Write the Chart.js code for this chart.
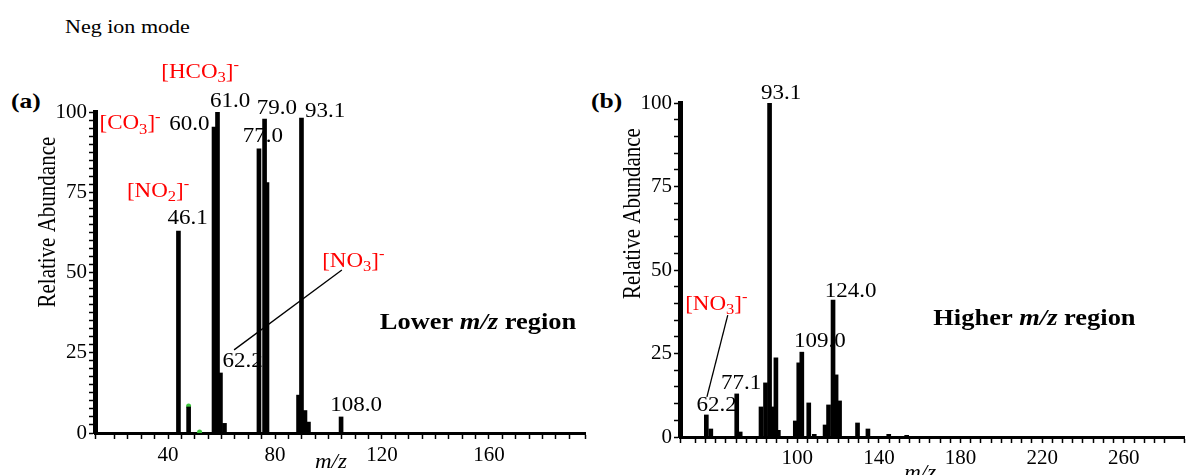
<!DOCTYPE html>
<html>
<head>
<meta charset="utf-8">
<title>Neg ion mode spectra</title>
<script src="https://cdn.jsdelivr.net/npm/chart.js@4.4.1/dist/chart.umd.min.js"></script>
<style>
    body { margin: 0; background: #fff; width: 1187px; height: 475px; position: relative; overflow: hidden; font-family: "Liberation Serif", "Times New Roman", serif; }
    canvas { position: absolute; top: 0; }
    #lowerCanvas { left: 0; }
    #higherCanvas { left: 595px; }
    .fig-text { position: absolute; white-space: nowrap; line-height: 1; transform-origin: 0 0; transform: scaleX(1.16); color: #000; }
</style>
</head>
<body>
<div class="fig-text" style="left:65px; top:17px; font-size:19px;">Neg ion mode</div>
<div class="fig-text" style="left:11px; top:90px; font-size:22px; font-weight:bold;">(a)</div>
<div class="fig-text" style="left:591px; top:90px; font-size:22px; font-weight:bold;">(b)</div>
<canvas id="lowerCanvas" width="595" height="475"></canvas>
<canvas id="higherCanvas" width="592" height="475"></canvas>
<script>
// (a) lower m/z region - peak positions, relative abundance (%)
const lowerMz = [43.9, 47.7, 57.2, 58.5, 59.6, 61.1, 74.0, 76.1, 77.0, 88.8, 89.9, 91.2, 92.5, 104.7];
const lowerAbundance = [62.9, 8.1, 95.3, 100, 18.7, 3.0, 88.5, 97.8, 78.0, 11.8, 98.1, 7.0, 3.4, 5.0];
// green marks left in the original scan
const lowerMarkMz = [47.7, 51.8];
const lowerMarkAbundance = [8.4, 0.3];

// (b) higher m/z region
const higherMz = [55.4, 57.6, 70.3, 72.0, 82.2, 84.4, 86.4, 88.1, 89.5, 90.7, 99.0, 100.7, 102.2, 105.6,
    108.3, 113.6, 115.3, 117.5, 119.0, 120.7, 129.5, 134.6, 144.8, 153.6];
const higherAbundance = [6.6, 2.4, 12.9, 1.5, 9.0, 16.2, 100, 9.0, 23.7, 2.0, 4.8, 22.2, 25.4, 10.2,
    0.8, 3.6, 9.6, 41.0, 18.6, 10.8, 4.2, 2.4, 0.8, 0.5];

// axis tick labels
const lowerXLabels = [40, 80, 120, 160];
const higherXLabels = [100, 140, 180, 220, 260];
const yLabels = [0, 25, 50, 75, 100];

const STRETCH = 1.15;
const SERIF = '"Liberation Serif", "Times New Roman", serif';

// "[HCO_3]^-" -> plain / subscript / superscript pieces
function parseParts(str) {
    const parts = [];
    let buf = '';
    for (let i = 0; i < str.length; i++) {
        const c = str[i];
        if ((c === '_' || c === '^') && i + 1 < str.length) {
            if (buf) parts.push({ text: buf });
            buf = '';
            parts.push({ text: str[i + 1], sub: c === '_', sup: c === '^' });
            i++;
        } else {
            buf += c;
        }
    }
    if (buf) parts.push({ text: buf });
    return parts;
}

function drawNote(ctx, note, cx, cy) {
    const size = note.size;
    const parts = note.parts || parseParts(note.text);
    const fontFor = (p) => {
        const s = (p.sub || p.sup) ? size * 0.72 : size;
        return (p.italic ? 'italic ' : '') + (note.bold ? 'bold ' : '') + s + 'px ' + SERIF;
    };
    ctx.save();
    ctx.translate(cx, cy);
    if (note.rotate) {
        ctx.rotate(-Math.PI / 2);
        ctx.scale(1, STRETCH);
    } else {
        ctx.scale(STRETCH, 1);
    }
    ctx.fillStyle = note.color || '#000';
    ctx.textAlign = 'left';
    ctx.textBaseline = 'alphabetic';
    let total = 0;
    parts.forEach(p => {
        ctx.font = fontFor(p);
        total += ctx.measureText(p.text).width;
    });
    let x = -total / 2;
    const base = size * 0.33;
    parts.forEach(p => {
        ctx.font = fontFor(p);
        const shift = p.sub ? size * 0.22 : (p.sup ? -size * 0.42 : 0);
        ctx.fillText(p.text, x, base + shift);
        x += ctx.measureText(p.text).width;
    });
    ctx.restore();
}

// labels and leader lines, placed in data coordinates, drawn under the peaks
function notesPlugin(notes, lines) {
    return {
        id: 'notes',
        beforeDatasetsDraw(chart) {
            const ctx = chart.ctx;
            const xs = chart.scales.x;
            const ys = chart.scales.y;
            ctx.save();
            ctx.strokeStyle = '#000';
            ctx.lineWidth = 1.3;
            lines.forEach(l => {
                ctx.beginPath();
                ctx.moveTo(xs.getPixelForValue(l.from[0]), ys.getPixelForValue(l.from[1]));
                ctx.lineTo(xs.getPixelForValue(l.to[0]), ys.getPixelForValue(l.to[1]));
                ctx.stroke();
            });
            ctx.restore();
            notes.forEach(n => drawNote(ctx, n, xs.getPixelForValue(n.x), ys.getPixelForValue(n.y)));
        }
    };
}

const RED = '#ff0000';
const mzParts = (before, after) => [{ text: before }, { text: 'm/z', italic: true }, { text: after }];

const lowerNotes = [
    { text: '46.1', x: 47.3, y: 67.3, size: 20 },
    { text: '60.0', x: 48.0, y: 96.4, size: 20 },
    { text: '61.0', x: 63.2, y: 103.6, size: 20 },
    { text: '77.0', x: 75.5, y: 92.7, size: 20 },
    { text: '79.0', x: 80.7, y: 101.4, size: 20 },
    { text: '93.1', x: 98.7, y: 100.5, size: 20 },
    { text: '62.2', x: 67.9, y: 22.6, size: 20 },
    { text: '108.0', x: 110.3, y: 8.9, size: 20 },
    { text: '[HCO_3]^-', x: 52.0, y: 112.8, size: 20, color: RED },
    { text: '[CO_3]^-', x: 25.8, y: 96.7, size: 20, color: RED },
    { text: '[NO_2]^-', x: 36.3, y: 75.7, size: 20, color: RED },
    { text: '[NO_3]^-', x: 109.3, y: 53.9, size: 20, color: RED },
    { parts: mzParts('Lower ', ' region'), x: 155.9, y: 34.9, size: 23, bold: true },
    { parts: [{ text: 'm/z', italic: true }], x: 100.9, y: -9.0, size: 20 },
    { text: 'Relative Abundance', x: -5.2, y: 65.7, size: 21, rotate: true }
];
const lowerLines = [{ from: [64.7, 25.9], to: [105.0, 50.8] }];

const higherNotes = [
    { text: '93.1', x: 92.0, y: 103.1, size: 20 },
    { text: '62.2', x: 60.5, y: 9.7, size: 20 },
    { text: '77.1', x: 72.5, y: 16.3, size: 20 },
    { text: '109.0', x: 111.0, y: 28.9, size: 20 },
    { text: '124.0', x: 126.1, y: 43.9, size: 20 },
    { text: '[NO_3]^-', x: 60.3, y: 40.1, size: 20, color: RED },
    { parts: mzParts('Higher ', ' region'), x: 216.2, y: 35.8, size: 23, bold: true },
    { parts: [{ text: 'm/z', italic: true }], x: 160.2, y: -10.5, size: 20 },
    { text: 'Relative Abundance', x: 19.1, y: 66.9, size: 21, rotate: true }
];
const higherLines = [{ from: [65.9, 36.5], to: [55.7, 12.0] }];

function buildSpectrum(canvasId, cfg) {
    const peaks = cfg.mz.map((mz, i) => ({ x: mz, y: cfg.abundance[i] }));
    const datasets = [{
        type: 'bar',
        data: peaks,
        backgroundColor: '#000',
        borderWidth: 0,
        barThickness: 4
    }];
    if (cfg.marks) {
        datasets.push({
            type: 'scatter',
            data: cfg.marks.mz.map((mz, i) => ({ x: mz, y: cfg.marks.abundance[i] })),
            backgroundColor: '#3cc63c',
            borderWidth: 0,
            pointRadius: 2.5
        });
    }

    return new Chart(document.getElementById(canvasId).getContext('2d'), {
        type: 'bar',
        data: { datasets },
        options: {
            responsive: false,
            animation: false,
            events: [],
            layout: { padding: cfg.padding },
            plugins: {
                legend: { display: false },
                tooltip: { enabled: false }
            },
            scales: {
                x: {
                    type: 'linear',
                    min: cfg.xMin,
                    max: cfg.xMax,
                    offset: false,
                    afterFit: (scale) => { scale.height = cfg.xHeight; },
                    border: { display: true, color: '#000', width: 3 },
                    grid: { offset: false, drawOnChartArea: false, drawTicks: true, tickLength: 6, tickWidth: 1.5, tickColor: '#000' },
                    ticks: {
                        stepSize: 5,
                        autoSkip: false,
                        maxRotation: 0,
                        padding: cfg.xPad,
                        color: '#000',
                        font: { family: SERIF, size: 21 },
                        callback: (v) => cfg.xLabels.includes(v) ? String(v) : ''
                    }
                },
                y: {
                    min: 0,
                    max: 100,
                    afterFit: (scale) => { scale.width = cfg.yWidth; },
                    border: { display: true, color: '#000', width: 5 },
                    grid: { drawOnChartArea: false, drawTicks: true, tickLength: 6, tickWidth: 1.5, tickColor: '#000' },
                    ticks: {
                        stepSize: cfg.yStep,
                        autoSkip: false,
                        padding: 2,
                        color: '#000',
                        font: { family: SERIF, size: 21 },
                        callback: (v) => yLabels.includes(v) ? String(v) : ''
                    }
                }
            }
        },
        plugins: [notesPlugin(cfg.notes, cfg.lines)]
    });
}

// Lower m/z region (a)
buildSpectrum('lowerCanvas', {
    mz: lowerMz,
    abundance: lowerAbundance,
    marks: { mz: lowerMarkMz, abundance: lowerMarkAbundance },
    xMin: 12.7, xMax: 195.9, xLabels: lowerXLabels, xHeight: 42, xPad: 4,
    yWidth: 95, yStep: 2.5,
    padding: { left: 0, right: 10, top: 112, bottom: 0 },
    notes: lowerNotes, lines: lowerLines
});

// Higher m/z region (b)
buildSpectrum('higherCanvas', {
    mz: higherMz,
    abundance: higherAbundance,
    xMin: 42.5, xMax: 289.5, xLabels: higherXLabels, xHeight: 38, xPad: 3,
    yWidth: 85, yStep: 5,
    padding: { left: 0, right: 0, top: 103, bottom: 0 },
    notes: higherNotes, lines: higherLines
});
</script>
</body>
</html>
